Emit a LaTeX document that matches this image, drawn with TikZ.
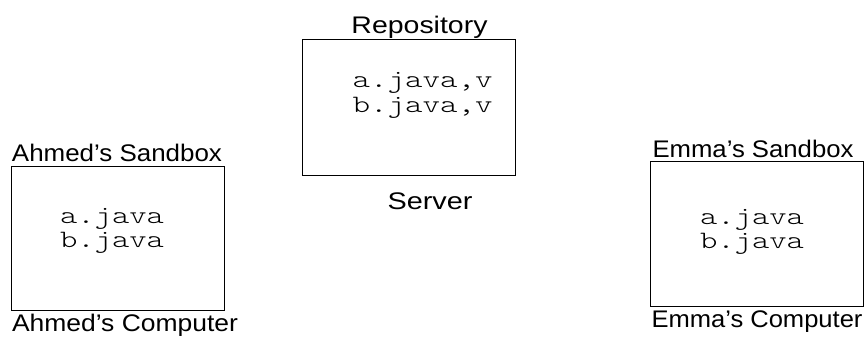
\documentclass[tikz,border=0pt]{standalone}
\usepackage{fontspec}
\setmainfont{Liberation Sans}
\setmonofont{Latin Modern Mono Light}
% stretch a text horizontally to a given width, keeping its height
\newcommand\fitwidth[2]{\resizebox{#1}{\height}{#2}}
\tikzset{
  machine/.style={draw=black, line width=0.8pt, rectangle, inner sep=0pt},
  caption/.style={anchor=base, inner sep=0pt, font=\fontsize{24}{28}\selectfont},
  code/.style={anchor=base, inner sep=0pt, font=\fontsize{25}{30}\ttfamily}
}
\begin{document}
\begin{tikzpicture}[x=1pt, y=-1pt]
\useasboundingbox (0,0) rectangle (867,337);

% central repository on the server
\node[machine, minimum width=213pt, minimum height=136pt] (server) at (408.5,107) {};
\node[caption] (repo) at (419.5,34) {\fitwidth{136pt}{Repository}};
\node[caption] (srvname) at (430,209) {\fitwidth{85pt}{Server}};
\node[code] (srva) at (422.5,88) {\fitwidth{140pt}{a.java,v}};
\node[code] (srvb) at (422.5,112) {\fitwidth{140pt}{b.java,v}};

% Ahmed's working copy
\node[machine, minimum width=213pt, minimum height=144pt] (ahmed) at (117.5,238) {};
\node[caption] (ahmedsb) at (117,161) {\fitwidth{210pt}{Ahmed’s Sandbox}};
\node[caption] (ahmedpc) at (125,331.5) {\fitwidth{226pt}{Ahmed’s Computer}};
\node[code] (ahmeda) at (112,223) {\fitwidth{104pt}{a.java}};
\node[code] (ahmedb) at (112,247) {\fitwidth{104pt}{b.java}};

% Emma's working copy
\node[machine, minimum width=213pt, minimum height=145pt] (emma) at (756.5,233.5) {};
\node[caption] (emmasb) at (753,157) {\fitwidth{201pt}{Emma’s Sandbox}};
\node[caption] (emmapc) at (757,327) {\fitwidth{211pt}{Emma’s Computer}};
\node[code] (emmaa) at (752,224) {\fitwidth{104pt}{a.java}};
\node[code] (emmab) at (752,248) {\fitwidth{104pt}{b.java}};
\end{tikzpicture}
\end{document}
